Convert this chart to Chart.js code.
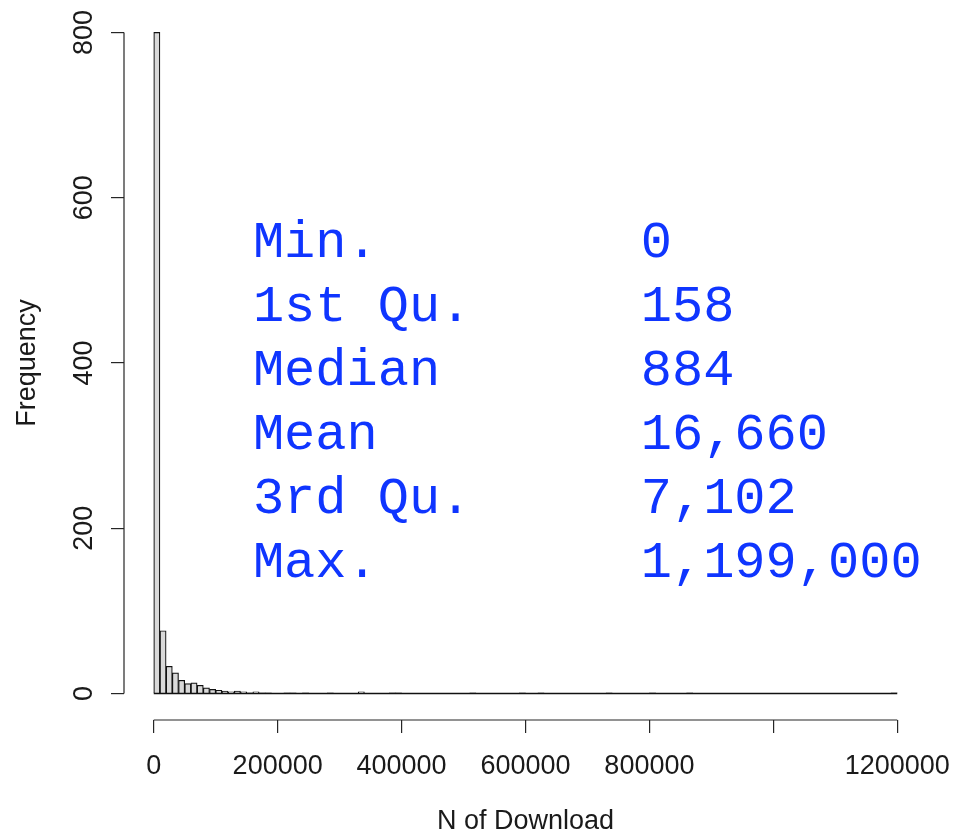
<!DOCTYPE html>
<html>
<head>
<meta charset="utf-8">
<script src="https://cdn.jsdelivr.net/npm/chart.js@4.4.1/dist/chart.umd.min.js"></script>
<style>
  body { margin: 0; background: #fff; }
  canvas { display: block; }
</style>
</head>
<body>
<canvas id="hist" width="955" height="836"></canvas>
<script>
// histogram of downloads, bins of 10000
var binWidth = 10000;
var binStarts = [];
for (var b = 0; b < 120; b++) binStarts.push(b * binWidth);
var binCounts = [
    800, 76, 33, 25, 16, 12, 13, 10, 7, 5,
    4, 3, 2, 3, 2, 1, 2, 1, 1, 0,
    0, 1, 1, 0, 1, 0, 0, 0, 1, 0,
    0, 0, 0, 2, 0, 0, 0, 0, 1, 1,
    0, 0, 0, 0, 0, 0, 0, 0, 0, 0,
    0, 1, 0, 0, 0, 0, 0, 0, 0, 1,
    0, 0, 1, 0, 0, 0, 0, 0, 0, 0,
    0, 0, 0, 1, 0, 0, 0, 0, 0, 0,
    1, 0, 0, 0, 0, 0, 1, 0, 0, 0,
    0, 0, 0, 0, 0, 0, 0, 0, 0, 0,
    0, 0, 0, 0, 0, 0, 0, 0, 0, 0,
    0, 0, 0, 0, 0, 0, 0, 0, 0, 1
];
var xTicks = [0, 200000, 400000, 600000, 800000, 1000000, 1200000];
var xTickLabels = ['0', '200000', '400000', '600000', '800000', '', '1200000'];
var yTicks = [0, 200, 400, 600, 800];
var statNames = ['Min.', '1st Qu.', 'Median', 'Mean', '3rd Qu.', 'Max.'];
var statValues = ['0', '158', '884', '16,660', '7,102', '1,199,000'];

// where the summary text sits, in data units
var statLabelX = 160000;
var statValueX = 786000;
var statTopY = 528;
var statStepY = 77.4;

var axisColor = '#262626';
var labelFont = { family: '"Liberation Sans", Arial, sans-serif', size: 27 };

var barData = binStarts.map(function(s, i) {
    return { x: s + binWidth / 2, y: binCounts[i] };
});
var baseData = [{ x: binStarts[0], y: 0 }, { x: binStarts[binStarts.length - 1] + binWidth, y: 0 }];

var axisLines = {
    id: 'axisLines',
    afterDraw: function(chart) {
        var ctx = chart.ctx, xs = chart.scales.x, ys = chart.scales.y, area = chart.chartArea;
        ctx.save();
        ctx.strokeStyle = axisColor;
        ctx.lineWidth = 1.2;
        ctx.beginPath();
        ctx.moveTo(xs.getPixelForValue(xTicks[0]), area.bottom);
        ctx.lineTo(xs.getPixelForValue(xTicks[xTicks.length - 1]), area.bottom);
        ctx.moveTo(area.left, ys.getPixelForValue(yTicks[0]));
        ctx.lineTo(area.left, ys.getPixelForValue(yTicks[yTicks.length - 1]));
        ctx.stroke();
        ctx.restore();
    }
};

var summaryText = {
    id: 'summaryText',
    afterDatasetsDraw: function(chart) {
        var ctx = chart.ctx, xs = chart.scales.x, ys = chart.scales.y;
        ctx.save();
        ctx.font = '52px "Liberation Mono", "Courier New", monospace';
        ctx.fillStyle = '#0f35ff';
        ctx.textBaseline = 'alphabetic';
        ctx.textAlign = 'left';
        for (var i = 0; i < statNames.length; i++) {
            var y = ys.getPixelForValue(statTopY - i * statStepY);
            ctx.fillText(statNames[i], xs.getPixelForValue(statLabelX), y);
            ctx.fillText(statValues[i], xs.getPixelForValue(statValueX), y);
        }
        ctx.restore();
    }
};

var chart = new Chart(document.getElementById('hist'), {
    type: 'bar',
    data: {
        datasets: [{
            type: 'line',
            data: baseData,
            borderColor: '#111',
            borderWidth: 1.6,
            pointRadius: 0,
            order: 0
        }, {
            data: barData,
            backgroundColor: '#d9d9d9',
            borderColor: '#111',
            borderWidth: 1.2,
            barPercentage: 1,
            categoryPercentage: 1,
            order: 1
        }]
    },
    options: {
        responsive: false,
        animation: false,
        layout: { padding: { top: 6, right: 28, left: 0, bottom: 0 } },
        plugins: { legend: { display: false }, tooltip: { enabled: false } },
        scales: {
            x: {
                type: 'linear',
                offset: false,
                min: -48000,
                max: 1248000,
                afterBuildTicks: function(scale) {
                    scale.ticks = xTicks.map(function(v) { return { value: v }; });
                },
                afterFit: function(scale) {
                    scale.height = 116;
                    scale.paddingLeft = 0;
                    scale.paddingRight = 0;
                },
                border: { display: false },
                grid: { offset: false, drawOnChartArea: false, drawTicks: true, tickLength: 13, color: axisColor, lineWidth: 1.2 },
                ticks: {
                    autoSkip: false,
                    maxRotation: 0,
                    padding: 17,
                    color: '#1a1a1a',
                    font: labelFont,
                    callback: function(v) { return xTickLabels[xTicks.indexOf(v)]; }
                },
                title: {
                    display: true,
                    text: 'N of Download',
                    color: '#1a1a1a',
                    font: { family: labelFont.family, size: 27, lineHeight: 1 },
                    padding: { top: 0, bottom: 1 }
                }
            },
            y: {
                min: -32,
                max: 832,
                afterBuildTicks: function(scale) {
                    scale.ticks = yTicks.map(function(v) { return { value: v }; });
                },
                afterFit: function(scale) {
                    scale.width = 124;
                    scale.paddingTop = 0;
                    scale.paddingBottom = 0;
                },
                border: { display: false },
                grid: { drawOnChartArea: false, drawTicks: true, tickLength: 13, color: axisColor, lineWidth: 1.2 },
                ticks: {
                    minRotation: 90,
                    maxRotation: 90,
                    crossAlign: 'center',
                    padding: 4,
                    color: '#1a1a1a',
                    font: labelFont,
                    callback: function(v) { return String(v); }
                },
                title: { display: true, text: 'Frequency', color: '#1a1a1a', font: labelFont, padding: { top: 11, bottom: 0 } }
            }
        }
    },
    plugins: [axisLines, summaryText]
});
</script>
</body>
</html>
